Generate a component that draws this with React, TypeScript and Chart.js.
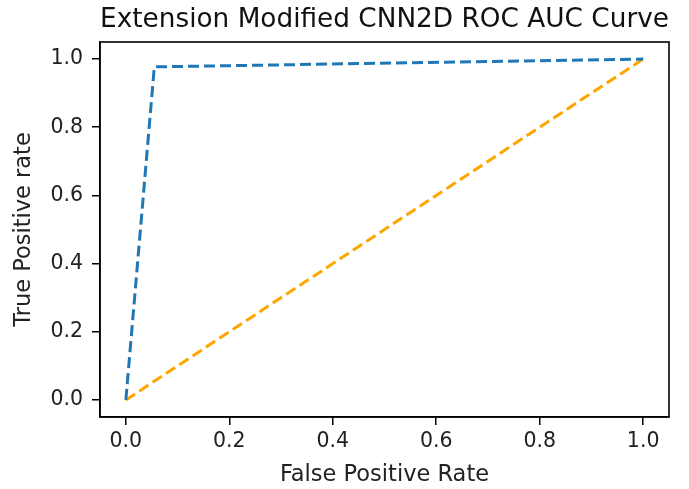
import React, { useEffect, useRef } from "react";
import { Chart, registerables } from "chart.js";

Chart.register(...registerables);

const rocFpr = [0, 0.055, 1];
const rocTpr = [0, 0.977, 1];
const diagFpr = [0, 1];
const diagTpr = [0, 1];
const tickValues = [0, 0.2, 0.4, 0.6, 0.8, 1.0];

const frame = {
  id: "frame",
  afterDraw(chart: any) {
    const { ctx, chartArea } = chart;
    ctx.save();
    ctx.strokeStyle = "#000";
    ctx.lineWidth = 1.6;
    ctx.strokeRect(chartArea.left, chartArea.top, chartArea.right - chartArea.left, chartArea.bottom - chartArea.top);
    ctx.restore();
  },
};

export default function App() {
  const ref = useRef<HTMLCanvasElement>(null);
  useEffect(() => {
    document.body.style.margin = "0";
    const font = "'DejaVu Sans', sans-serif";
    const chart = new Chart(ref.current!, {
      type: "line",
      data: {
        datasets: [
          {
            data: rocFpr.map((x, i) => ({ x, y: rocTpr[i] })),
            borderColor: "#1f77b4",
            borderWidth: 3,
            borderDash: [11, 5],
            pointRadius: 0,
            fill: false,
          },
          {
            data: diagFpr.map((x, i) => ({ x, y: diagTpr[i] })),
            borderColor: "#FFA500",
            borderWidth: 3,
            borderDash: [11, 5],
            pointRadius: 0,
            fill: false,
          },
        ],
      },
      options: {
        animation: false,
        responsive: false,
        layout: { padding: { left: 0, right: 20, top: 0, bottom: 0 } },
        plugins: {
          legend: { display: false },
          tooltip: { enabled: false },
          title: {
            display: true,
            text: "Extension Modified CNN2D ROC AUC Curve",
            color: "#111",
            font: { family: font, size: 26.5, weight: "normal" },
            padding: { top: 4, bottom: 6.2 },
            fullSize: false,
          },
        },
        scales: {
          x: {
            type: "linear",
            min: -0.05,
            max: 1.05,
            afterBuildTicks: (s: any) => {
              s.ticks = tickValues.map((v) => ({ value: v }));
            },
            afterFit: (s: any) => {
              s.height = 72;
            },
            grid: { display: true, drawOnChartArea: false, drawTicks: true, tickLength: 8, color: "#000", lineWidth: 1.5 },
            border: { display: true, color: "#000", width: 1.5 },
            ticks: {
              color: "#222",
              font: { family: font, size: 20.5 },
              padding: 4,
              maxRotation: 0,
              callback: (v: any) => Number(v).toFixed(1),
            },
            title: {
              display: true,
              text: "False Positive Rate",
              color: "#222",
              font: { family: font, size: 22.5 },
              padding: { top: 0, bottom: 0.5 },
            },
          },
          y: {
            type: "linear",
            min: -0.05,
            max: 1.05,
            afterBuildTicks: (s: any) => {
              s.ticks = tickValues.map((v) => ({ value: v }));
            },
            afterFit: (s: any) => {
              s.width = 100;
            },
            grid: { display: true, drawOnChartArea: false, drawTicks: true, tickLength: 8, color: "#000", lineWidth: 1.5 },
            border: { display: true, color: "#000", width: 1.5 },
            ticks: {
              color: "#222",
              font: { family: font, size: 20.5 },
              padding: 9,
              callback: (v: any) => Number(v).toFixed(1),
            },
            title: {
              display: true,
              text: "True Positive rate",
              color: "#222",
              font: { family: font, size: 22.5 },
              padding: { top: 10.5, bottom: 0 },
            },
          },
        },
      },
      plugins: [frame],
    });
    return () => chart.destroy();
  }, []);
  return (
    <div style={{ position: "absolute", left: 0, top: 0, width: 689, height: 489, background: "#fff" }}>
      <canvas ref={ref} width={689} height={489} />
    </div>
  );
}
